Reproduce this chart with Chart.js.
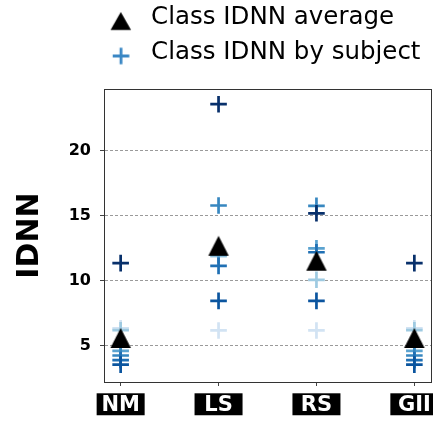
<!DOCTYPE html>
<html>
<head>
<meta charset="utf-8">
<script src="https://cdn.jsdelivr.net/npm/chart.js@4.4.1/dist/chart.umd.min.js"></script>
<style>
html, body { margin: 0; padding: 0; background: #fff; }
#wrap { width: 433px; height: 423px; }
</style>
</head>
<body>
<div id="wrap"><canvas id="c" width="433" height="423"></canvas></div>
<script>
// ---- data ----
const categories = ['NM', 'LS', 'RS', 'GII'];
const averageIDNN = [5.6, 12.7, 11.55, 5.6];
const subject1 = [6.35, 6.18, 6.18, 6.35];
const subject2 = [6.2, 11.9, 10.08, 6.2];
const subject3 = [4.6, 12.0, 12.5, 4.6];
const subject4 = [4.25, 15.8, 15.77, 4.25];
const subject5 = [3.9, 11.15, 12.2, 3.9];
const subject6 = [3.55, 8.46, 8.46, 3.55];
const subject7 = [11.36, 23.6, 15.2, 11.36];
const yTickValues = [5, 10, 15, 20];
const legendLabels = ['Class IDNN average', 'Class IDNN by subject'];

const subjects = [subject1, subject2, subject3, subject4, subject5, subject6, subject7];
const subjectColors = ['#d2e3f3', '#9ecae1', '#5ba3d0', '#3787c0', '#2070b4', '#0b559f', '#08306b'];

const FONT = 'DejaVu Sans';

// ---- marker glyphs ----
function glyphCanvas(draw) {
  const c = document.createElement('canvas');
  c.width = 60; c.height = 60;
  const g = c.getContext('2d');
  draw(g, 30, 30);
  return c;
}
function tri(g, cx, cy, w, h, color) {
  g.fillStyle = color;
  g.beginPath();
  g.moveTo(cx, cy - h / 2);
  g.lineTo(cx + w / 2, cy + h / 2);
  g.lineTo(cx - w / 2, cy + h / 2);
  g.closePath();
  g.fill();
}
function cross(g, cx, cy, r, lw, color) {
  g.strokeStyle = color;
  g.lineWidth = lw;
  g.beginPath();
  g.moveTo(cx - r, cy); g.lineTo(cx + r, cy);
  g.moveTo(cx, cy - r); g.lineTo(cx, cy + r);
  g.stroke();
}
const triImg = glyphCanvas((g, cx, cy) => tri(g, cx, cy, 20.5, 20, '#000'));
const legendTriImg = glyphCanvas((g, cx, cy) => tri(g, cx - 6, cy + 3.8, 20.5, 18, '#000'));
const legendCrossImg = glyphCanvas((g, cx, cy) => cross(g, cx - 5.8, cy + 3.5, 8.3, 2.8, '#3a87c4'));

// ---- label box widths ----
const labelBoxWidth = 48;
const mctx = document.createElement('canvas').getContext('2d');
mctx.font = 'bold 21px ' + FONT;
const sidePad = (i) => Math.max(0, (labelBoxWidth - mctx.measureText(categories[i] || '').width) / 2);

// ---- datasets ----
const datasets = [{
  label: legendLabels[0],
  data: averageIDNN.map((v, i) => ({ x: i, y: v })),
  pointStyle: triImg,
  pointRadius: 10,
  pointHoverRadius: 10,
  backgroundColor: '#000',
  borderColor: '#000',
  order: 0
}];
subjects.forEach((arr, j) => {
  datasets.push({
    label: legendLabels[1],
    data: arr.map((v, i) => ({ x: i, y: v })),
    pointStyle: 'cross',
    pointRadius: 8.3,
    pointHoverRadius: 8.3,
    pointBorderWidth: 2.7,
    pointHoverBorderWidth: 2.7,
    pointBorderColor: subjectColors[j],
    pointBackgroundColor: subjectColors[j],
    order: subjects.length - j
  });
});

new Chart(document.getElementById('c'), {
  type: 'scatter',
  data: { datasets },
  options: {
    responsive: false,
    animation: false,
    events: [],
    layout: { autoPadding: false, padding: { top: -5.85, right: 2, bottom: 0, left: 0 } },
    plugins: {
      tooltip: { enabled: false },
      legend: {
        display: true,
        position: 'top',
        align: 'start',
        fullSize: false,
        weight: 1000,
        labels: {
          usePointStyle: true,
          pointStyleWidth: 24,
          padding: 10.8,
          color: '#000',
          font: { family: FONT, size: 24.5 },
          generateLabels: () => [
            { text: legendLabels[0], pointStyle: legendTriImg, fillStyle: '#000', strokeStyle: '#000', lineWidth: 0, hidden: false, datasetIndex: 0, fontColor: '#000' },
            { text: legendLabels[1], pointStyle: legendCrossImg, fillStyle: '#3a87c4', strokeStyle: '#3a87c4', lineWidth: 0, hidden: false, datasetIndex: 1, fontColor: '#000' }
          ]
        }
      },
      subtitle: {
        display: true,
        text: '',
        position: 'top',
        weight: 500,
        font: { size: 1, lineHeight: 1 },
        padding: { top: 0, bottom: 13.25 }
      }
    },
    scales: {
      x: {
        type: 'linear',
        position: 'bottom',
        min: -0.17,
        max: 3.17,
        bounds: 'data',
        afterBuildTicks: (a) => { a.ticks = categories.map((_, i) => ({ value: i })); },
        afterFit: (a) => { a.height = 41; a.paddingLeft = 0; a.paddingRight = 0; },
        grid: { display: true, drawOnChartArea: false, drawTicks: true, tickLength: 4, tickColor: '#444', tickWidth: 1, color: '#444' },
        border: { display: true, color: '#333', width: 1 },
        ticks: {
          autoSkip: false,
          maxRotation: 0,
          minRotation: 0,
          padding: 10.35,
          color: '#fff',
          font: { family: FONT, size: 21, weight: 'bold', lineHeight: 0.9 },
          callback: (v) => categories[v],
          showLabelBackdrop: true,
          backdropColor: '#000',
          backdropPadding: {
            top: 3.05,
            bottom: 0,
            left: (ctx) => sidePad(ctx.index),
            right: (ctx) => sidePad(ctx.index)
          }
        }
      },
      y: {
        type: 'linear',
        position: 'left',
        min: 2.21,
        max: 24.77,
        bounds: 'data',
        afterBuildTicks: (a) => { a.ticks = yTickValues.map((v) => ({ value: v })); },
        afterFit: (a) => { a.width = 104; },
        grid: { display: true, color: '#9a9a9a', lineWidth: 1, drawTicks: true, tickLength: 4, tickColor: '#444', tickWidth: 1, tickBorderDash: [] },
        border: { display: true, color: '#333', width: 1, dash: [3, 2] },
        ticks: {
          padding: 9,
          color: '#000',
          font: { family: FONT, size: 16, weight: 'bold' },
          callback: (v) => String(v)
        },
        title: {
          display: true,
          text: 'IDNN',
          color: '#000',
          font: { family: FONT, size: 30, weight: 'bold', lineHeight: 1.2 },
          padding: { top: 12, bottom: 0 }
        }
      },
      x2: {
        type: 'linear',
        position: 'top',
        display: true,
        grid: { display: false, drawTicks: false },
        ticks: { display: false },
        border: { display: true, color: '#333', width: 1 }
      },
      y2: {
        type: 'linear',
        position: 'right',
        display: true,
        grid: { display: false, drawTicks: false },
        ticks: { display: false },
        border: { display: true, color: '#333', width: 1 }
      }
    }
  }
});
</script>
</body>
</html>
